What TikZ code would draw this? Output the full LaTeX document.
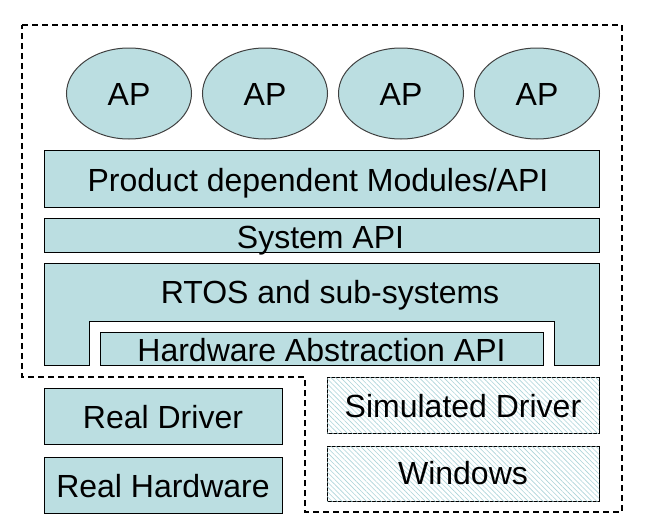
\documentclass[tikz,border=0pt]{standalone}
\usepackage{fontspec}
\setmainfont{Liberation Sans}
\usetikzlibrary{shapes.geometric,patterns.meta}
\definecolor{boxfill}{RGB}{187,222,225}
\definecolor{hatchc}{RGB}{172,212,217}
\tikzset{
  x=0.75pt, y=-0.75pt,
  lbl/.style={font=\fontsize{24}{28}\selectfont, inner sep=0pt, text height=17.2pt, text depth=0pt},
  sz/.style 2 args={minimum width=#1*0.75pt, minimum height=#2*0.75pt},
  box/.style={draw=black, line width=0.75pt, fill=boxfill, inner sep=0pt, outer sep=0pt},
  hbox/.style={draw=black, line width=0.75pt, fill=white, inner sep=0pt, outer sep=0pt,
    postaction={pattern={Lines[angle=-45,distance=2.6pt,line width=0.45pt]}, pattern color=hatchc}},
  apnode/.style={ellipse, draw=black!75, line width=0.75pt, fill=boxfill, inner sep=0pt, sz={125}{91}},
  boundary/.style={draw=black, line width=0.9pt, dash pattern=on 4.5pt off 3pt}
}
\begin{document}
\begin{tikzpicture}
\useasboundingbox (0,0) rectangle (651,532);
% dashed boundary
\coordinate (b1) at (22,25);
\coordinate (b2) at (622,25);
\coordinate (b3) at (622,512);
\coordinate (b4) at (305,512);
\coordinate (b5) at (305,377);
\coordinate (b6) at (22,377);
\draw[boundary] (b1) -- (b2) -- (b3) -- (b4) -- (b5) -- (b6) -- cycle;
% APs
\node[apnode] (ap1) at (129,93.5) {};
\node[apnode] (ap2) at (265,93.5) {};
\node[apnode] (ap3) at (401,93.5) {};
\node[apnode] (ap4) at (537,93.5) {};
\node[lbl] (ap1t) at (129,94.5) {AP};
\node[lbl] (ap2t) at (265,94.5) {AP};
\node[lbl] (ap3t) at (401,94.5) {AP};
\node[lbl] (ap4t) at (537,94.5) {AP};
% layers
\node[box, sz={555}{57}] (pdm) at (321.5,178.5) {};
\node[lbl] (pdmt) at (318,180) {Product dependent Modules/API};
\node[box, sz={555}{34}] (sys) at (321.5,235) {};
\node[lbl] (syst) at (320.5,237) {System API};
% RTOS notched shape
\draw[box] (44,263) -- (599,263) -- (599,365) -- (554,365) -- (554,321) -- (89,321) -- (89,365) -- (44,365) -- cycle;
\node[lbl] (rtos) at (330,292) {RTOS and sub-systems};
\node[box, sz={443}{33}] (hal) at (321.5,348.5) {};
\node[lbl] (halt) at (321.5,350) {Hardware Abstraction API};
% bottom boxes
\node[box, sz={238}{56}] (rd) at (163,416.5) {};
\node[lbl] (rdt) at (163,417.5) {Real Driver};
\node[box, sz={238}{56}] (rh) at (163,485) {};
\node[lbl] (rht) at (163,486) {Real Hardware};
\node[hbox, sz={272}{56}] (sd) at (463,405) {};
\node[lbl] (sdt) at (463,406) {Simulated Driver};
\node[hbox, sz={272}{55}] (win) at (463,473.5) {};
\node[lbl] (wint) at (463,473.5) {Windows};
\end{tikzpicture}
\end{document}
